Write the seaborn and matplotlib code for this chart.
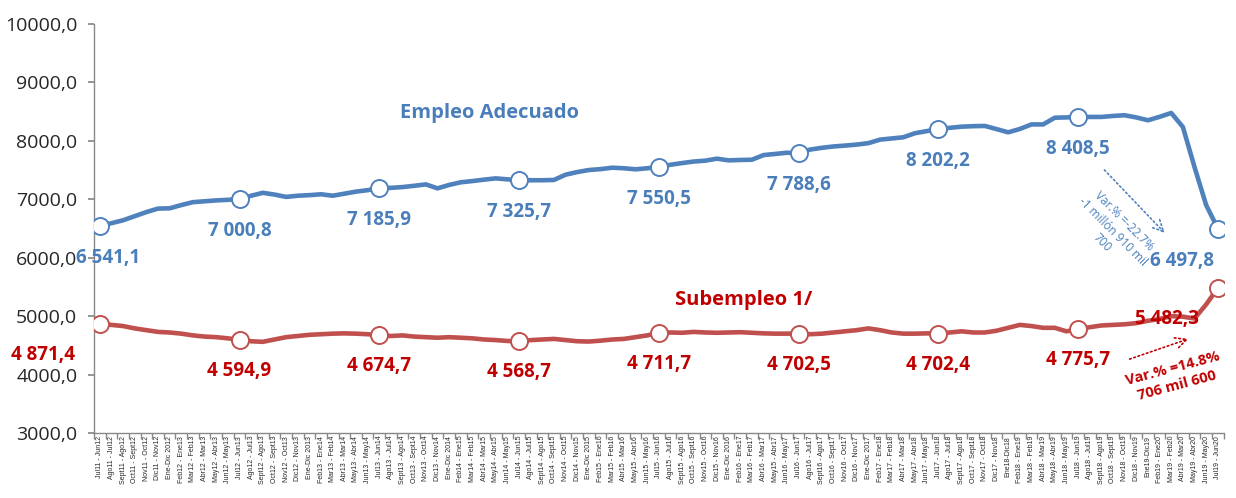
import numpy as np
import pandas as pd
import matplotlib
matplotlib.use("Agg")
import matplotlib.pyplot as plt
import seaborn as sns

# rolling 12-month periods (x categories)
periods = [
    "Jul11 - Jun12", "Ago11 - Jul12", "Sept11 - Ago12", "Oct11 - Sept12", "Nov11 - Oct12", "Dic11 - Nov12",
    "Ene-Dic 2012", "Feb12 - Ene13", "Mar12 - Feb13", "Abr12 - Mar13", "May12 - Abr13", "Jun12 - May13",
    "Jul12 - Jun13", "Ago12 - Jul13", "Sept12 - Ago13", "Oct12 - Sept13", "Nov12 - Oct13", "Dic12 - Nov13",
    "Ene-Dic 2013", "Feb13 - Ene14", "Mar13 - Feb14", "Abr13 - Mar14", "May13 - Abr14", "Jun13 - May14",
    "Jul13 - Jun14", "Ago13 - Jul14", "Sept13 - Ago14", "Oct13 - Sept14", "Nov13 - Oct14", "Dic13 - Nov14",
    "Ene-Dic 2014", "Feb14 - Ene15", "Mar14 - Feb15", "Abr14 - Mar15", "May14 - Abr15", "Jun14 - May15",
    "Jul14 - Jun15", "Ago14 - Jul15", "Sept14 - Ago15", "Oct14 - Sept15", "Nov14 - Oct15", "Dic14 - Nov15",
    "Ene-Dic 2015", "Feb15 - Ene16", "Mar15 - Feb16", "Abr15 - Mar16", "May15 - Abr16", "Jun15 - May16",
    "Jul15 - Jun16", "Ago15 - Jul16", "Sept15 - Ago16", "Oct15 - Sept16", "Nov15 - Oct16", "Dic15 - Nov16",
    "Ene-Dic 2016", "Feb16 - Ene17", "Mar16 - Feb17", "Abr16 - Mar17", "May15 - Abr17", "Jun16 - May17",
    "Jul16 - Jun17", "Ago16 - Jul17", "Sept16 - Ago17", "Oct16 - Sept17", "Nov16 - Oct17", "Dic16 - Nov17",
    "Ene-Dic 2017", "Feb17 - Ene18", "Mar17 - Feb18", "Abr17 - Mar18", "May17 - Abr18", "Jun17 - May18",
    "Jul17 - Jun18", "Ago17 - Jul18", "Sept17 - Ago18", "Oct17 - Sept18", "Nov17 - Oct18", "Dic17 - Nov18",
    "Ene18-Dic18", "Feb18 - Ene19", "Mar18 - Feb19", "Abr18 - Mar19", "May18 - Abr19", "Jun18 - May19",
    "Jul18 - Jun19", "Ago18 - Jul19", "Sept18 - Ago19", "Oct18 - Sept19", "Nov18 - Oct19", "Dic18 - Nov19",
    "Ene19-Dic19", "Feb19 - Ene20", "Mar19 - Feb20", "Abr19 - Mar20", "May19 - Abr20", "Jun19 - May20",
    "Jul19 - Jun20",
]

# Empleo Adecuado (miles de personas)
adecuado = [
    6541.1, 6590, 6640, 6710, 6780, 6840, 6845, 6900, 6950, 6965, 6980, 6990,
    7000.8, 7060, 7110, 7080, 7040, 7060, 7070, 7085, 7060, 7095, 7130, 7155,
    7185.9, 7195, 7208, 7230, 7254, 7186, 7245, 7290, 7311, 7335, 7357, 7340,
    7325.7, 7325, 7325, 7330, 7420, 7465, 7500, 7515, 7540, 7530, 7512, 7530,
    7550.5, 7590, 7619, 7645, 7660, 7694, 7665, 7672, 7676, 7756, 7775, 7796,
    7788.6, 7850, 7880, 7903, 7918, 7935, 7960, 8020, 8040, 8060, 8130, 8165,
    8202.2, 8222, 8242, 8250, 8254, 8200, 8145, 8202, 8280, 8280, 8395, 8400,
    8408.5, 8408, 8408, 8425, 8437, 8400, 8351, 8410, 8476, 8237, 7550, 6900,
    6497.8,
]

# Subempleo 1/
subempleo = [
    4871.4, 4850, 4830, 4790, 4760, 4730, 4720, 4700, 4670, 4650, 4640, 4620,
    4594.9, 4570, 4560, 4600, 4640, 4660, 4680, 4690, 4700, 4705, 4700, 4690,
    4674.7, 4660, 4670, 4650, 4640, 4630, 4640, 4630, 4620, 4600, 4590, 4575,
    4568.7, 4590, 4600, 4610, 4590, 4570, 4565, 4580, 4600, 4610, 4640, 4670,
    4711.7, 4720, 4715, 4730, 4720, 4715, 4720, 4725, 4715, 4705, 4700, 4700,
    4702.5, 4690, 4700, 4720, 4740, 4760, 4790, 4760, 4720, 4700, 4700, 4705,
    4702.4, 4720, 4740, 4720, 4720, 4750, 4800, 4850, 4830, 4800, 4800, 4740,
    4775.7, 4810, 4840, 4850, 4860, 4880, 4920, 4950, 5000, 4990, 4960, 5200,
    5482.3,
]

# labelled points (every 12 months)
label_idx = [0, 12, 24, 36, 48, 60, 72, 84, 96]
adecuado_labels = ["6 541,1", "7 000,8", "7 185,9", "7 325,7", "7 550,5", "7 788,6", "8 202,2", "8 408,5", "6 497,8"]
subempleo_labels = ["4 871,4", "4 594,9", "4 674,7", "4 568,7", "4 711,7", "4 702,5", "4 702,4", "4 775,7", "5 482,3"]

blue = "#4F81BD"
blue_txt = "#4A7EBB"
red = "#C0504D"
red_txt = "#C00000"

df = pd.DataFrame({"idx": np.arange(len(periods)), "adecuado": adecuado, "subempleo": subempleo})

sns.set_theme(style="white")
plt.rcParams["font.family"] = ["Open Sans", "DejaVu Sans"]

fig = plt.figure(figsize=(12.36, 4.98), dpi=100)
ax = fig.add_axes([0.076, 0.1305, 0.914, 0.8215])

sns.lineplot(data=df, x="idx", y="adecuado", ax=ax, color=blue, linewidth=3.3)
sns.lineplot(data=df, x="idx", y="subempleo", ax=ax, color=red, linewidth=3.3)
pts = df.iloc[label_idx]
sns.scatterplot(data=pts, x="idx", y="adecuado", ax=ax, s=150, color="white", edgecolor=blue, linewidth=1.4, zorder=5)
sns.scatterplot(data=pts, x="idx", y="subempleo", ax=ax, s=150, color="white", edgecolor=red, linewidth=1.4, zorder=5)

# data labels (offsets in px, converted to points)
px = 0.72
for k, (i, t) in enumerate(zip(label_idx, adecuado_labels)):
    dx = 0
    if k == 0:
        dx = 8
    elif k == len(label_idx) - 1:
        dx = -36
    ax.annotate(t, (i, adecuado[i]), xytext=(dx * px, -32 * px), textcoords="offset points",
                ha="center", va="center", fontsize=13.5, fontweight="bold", color=blue_txt)
for k, (i, t) in enumerate(zip(label_idx, subempleo_labels)):
    dx = 0
    if k == 0:
        dx = -57
    elif k == len(label_idx) - 1:
        dx = -51
    ax.annotate(t, (i, subempleo[i]), xytext=(dx * px, -31 * px), textcoords="offset points",
                ha="center", va="center", fontsize=13.5, fontweight="bold", color=red_txt)

# series names
ax.text(33.5, 8480, "Empleo Adecuado", color=blue_txt, fontsize=14.5, fontweight="bold", ha="center", va="center")
ax.text(55.3, 5270, "Subempleo 1/", color=red_txt, fontsize=14.5, fontweight="bold", ha="center", va="center")

# variation notes
ax.annotate("", xy=(91.6, 6390), xytext=(86.1, 7535),
            arrowprops=dict(arrowstyle="->", color=blue, linestyle=":", lw=1.2, mutation_scale=20))
ax.text(87.0, 6440, "Var.% =-22.7%\n-1 millón 910 mil\n700", color=blue_txt, fontsize=8.5,
        rotation=-45, ha="center", va="center", linespacing=1.25)
ax.annotate("", xy=(93.7, 4626), xytext=(88.2, 4249),
            arrowprops=dict(arrowstyle="->", color=red_txt, linestyle=":", lw=1.2, mutation_scale=20))
ax.text(92.3, 3960, "Var.% =14.8%\n706 mil 600", color=red_txt, fontsize=10.5, fontweight="bold",
        rotation=15, ha="center", va="center", linespacing=1.3)

# axes
ax.set_xlim(-0.5, len(periods) - 0.5)
ax.set_ylim(3000, 10000)
yt = np.arange(3000, 10001, 1000)
ax.set_yticks(yt)
ax.set_yticklabels([f"{v:.1f}".replace(".", ",") for v in yt], fontsize=14)
ax.set_xticks(np.arange(len(periods)))
ax.set_xticklabels(periods, rotation=90, fontsize=5, family=["Liberation Sans", "DejaVu Sans"])
ax.set_xticks(np.arange(-0.5, len(periods), 1), minor=True)
ax.tick_params(axis="x", which="major", length=0, pad=2)
ax.tick_params(axis="x", which="minor", length=4, color="#888888", direction="out", bottom=True)
ax.tick_params(axis="y", length=4, color="#888888", direction="out", left=True, pad=8)
ax.set_xlabel("")
ax.set_ylabel("")
for s in ["top", "right"]:
    ax.spines[s].set_visible(False)
for s in ["left", "bottom"]:
    ax.spines[s].set_color("#888888")
    ax.spines[s].set_linewidth(1.0)

fig.savefig("out.png", dpi=100)
